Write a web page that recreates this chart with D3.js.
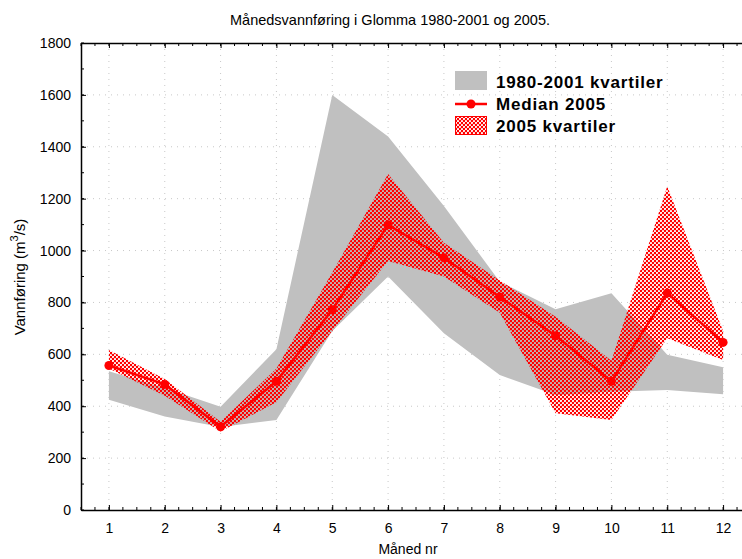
<html>
  <head>
    <style>
      body { margin: 0; background: #fff; }
      text { font-family: "Liberation Sans", Arial, sans-serif; }
    </style>
  </head>
  <body>
    <script src="https://d3js.org/d3.v7.min.js"></script>
    <script>
    var width = 742, height = 559;

    // month numbers
    var months = [1, 2, 3, 4, 5, 6, 7, 8, 9, 10, 11, 12];
    // 1980-2001 quartiles
    var q1980Low  = [425, 360, 320, 347, 690, 900, 681, 520, 443, 456, 463, 446];
    var q1980High = [535, 470, 398, 620, 1600, 1440, 1172, 880, 774, 835, 598, 550];
    // 2005 median and quartiles
    var median2005 = [557, 484, 321, 496, 772, 1099, 972, 821, 672, 496, 836, 646];
    var q2005Low   = [545, 440, 303, 415, 690, 960, 900, 760, 373, 347, 662, 578];
    var q2005High  = [617, 505, 340, 545, 915, 1295, 1030, 885, 745, 575, 1248, 690];
    var yTicks = [0, 200, 400, 600, 800, 1000, 1200, 1400, 1600, 1800];

    var pLeft = 81, pRight = 751, pTop = 43, pBottom = 510;

    var svg = d3.select("body").append("svg")
        .attr("width", width)
        .attr("height", height);

    var x = d3.scaleLinear().domain([0.5, 12.5]).range([pLeft, pRight]);
    var y = d3.scaleLinear().domain([0, 1800]).range([pBottom, pTop]);

    // hatch pattern: red with small see-through holes
    var defs = svg.append("defs");
    var pat = defs.append("pattern")
        .attr("id", "hatch")
        .attr("patternUnits", "userSpaceOnUse")
        .attr("width", 4).attr("height", 4);
    pat.append("path")
        .attr("d", "M0,0h4v4h-4z" +
                   "M-0.1,1a1.1,1.1 0 1,0 2.2,0a1.1,1.1 0 1,0 -2.2,0" +
                   "M1.9,3a1.1,1.1 0 1,0 2.2,0a1.1,1.1 0 1,0 -2.2,0")
        .attr("fill", "#ff0000")
        .attr("fill-rule", "evenodd");

    // grid
    svg.append("g").selectAll("line")
      .data(months).enter().append("line")
        .attr("x1", d => x(d)).attr("x2", d => x(d))
        .attr("y1", pTop).attr("y2", pBottom)
        .attr("stroke", "#c8c8c8").attr("stroke-width", 1)
        .attr("stroke-dasharray", "1,5");
    svg.append("g").selectAll("line")
      .data(yTicks.slice(1, -1)).enter().append("line")
        .attr("x1", pLeft).attr("x2", pRight)
        .attr("y1", d => y(d)).attr("y2", d => y(d))
        .attr("stroke", "#c8c8c8").attr("stroke-width", 1)
        .attr("stroke-dasharray", "1,5");

    var data = months.map(function(m, i) {
      return {m: m, lo: q1980Low[i], hi: q1980High[i], med: median2005[i], lo5: q2005Low[i], hi5: q2005High[i]};
    });

    var area1980 = d3.area().x(d => x(d.m)).y0(d => y(d.lo)).y1(d => y(d.hi));
    var area2005 = d3.area().x(d => x(d.m)).y0(d => y(d.lo5)).y1(d => y(d.hi5));
    var line = d3.line().x(d => x(d.m)).y(d => y(d.med));

    svg.append("path").datum(data)
        .attr("d", area1980)
        .attr("fill", "#c0c0c0");

    svg.append("path").datum(data)
        .attr("d", area2005)
        .attr("fill", "url(#hatch)");

    svg.append("path").datum(data)
        .attr("d", line)
        .attr("fill", "none")
        .attr("stroke", "#ff0000")
        .attr("stroke-width", 2.5);

    svg.append("g").selectAll("circle")
      .data(data).enter().append("circle")
        .attr("cx", d => x(d.m))
        .attr("cy", d => y(d.med))
        .attr("r", 4.5)
        .attr("fill", "#ff0000");

    // axes (ticks inward)
    var xMinor = d3.range(0.5, 12.51, 0.25);
    var yMinor = d3.range(0, 1801, 100);

    var xb = svg.append("g").attr("transform", "translate(0," + pBottom + ")")
        .call(d3.axisBottom(x).tickValues(months).tickSizeInner(-5).tickSizeOuter(0).tickPadding(13));
    xb.append("g").selectAll("line").data(xMinor).enter().append("line")
        .attr("x1", d => x(d)).attr("x2", d => x(d)).attr("y1", 0).attr("y2", -3)
        .attr("stroke", "#000");
    var xt = svg.append("g").attr("transform", "translate(0," + pTop + ")")
        .call(d3.axisTop(x).tickValues(months).tickSizeInner(-5).tickSizeOuter(0).tickFormat(""));
    xt.append("g").selectAll("line").data(xMinor).enter().append("line")
        .attr("x1", d => x(d)).attr("x2", d => x(d)).attr("y1", 0).attr("y2", 3)
        .attr("stroke", "#000");

    var yl = svg.append("g").attr("transform", "translate(" + pLeft + ",0)")
        .call(d3.axisLeft(y).tickValues(yTicks).tickFormat(d3.format("d"))
          .tickSizeInner(-5).tickSizeOuter(0).tickPadding(10));
    yl.append("g").selectAll("line").data(yMinor).enter().append("line")
        .attr("x1", 0).attr("x2", 3).attr("y1", d => y(d)).attr("y2", d => y(d))
        .attr("stroke", "#000");

    svg.selectAll(".domain").attr("stroke", "#000").attr("stroke-width", 1.5);
    svg.selectAll(".tick line").attr("stroke", "#000");
    svg.selectAll(".tick text")
        .attr("font-family", "Liberation Sans, Arial, sans-serif")
        .attr("font-size", 14).attr("fill", "#000");

    // title and axis labels
    svg.append("text")
        .attr("x", 390).attr("y", 25)
        .attr("text-anchor", "middle")
        .attr("font-size", 14.5)
        .text("Månedsvannføring i Glomma 1980-2001 og 2005.");

    svg.append("text")
        .attr("x", 408).attr("y", 554)
        .attr("text-anchor", "middle")
        .attr("font-size", 14)
        .text("Måned nr");

    var yl2 = svg.append("text")
        .attr("transform", "translate(25,277) rotate(-90)")
        .attr("text-anchor", "middle")
        .attr("font-size", 15);
    yl2.append("tspan").text("Vannføring (m");
    yl2.append("tspan").attr("dy", -7).attr("font-size", 11).text("3");
    yl2.append("tspan").attr("dy", 7).text("/s)");

    // legend
    var lg = svg.append("g").attr("transform", "translate(455,70)");
    lg.append("rect").attr("x", 0).attr("y", 1).attr("width", 32).attr("height", 19).attr("fill", "#c0c0c0");
    lg.append("line").attr("x1", 0).attr("x2", 32).attr("y1", 34).attr("y2", 34)
        .attr("stroke", "#ff0000").attr("stroke-width", 2.5);
    lg.append("circle").attr("cx", 16).attr("cy", 34).attr("r", 4.5).attr("fill", "#ff0000");
    lg.append("rect").attr("x", 0.5).attr("y", 46.5).attr("width", 31).attr("height", 18)
        .attr("fill", "url(#hatch)").attr("stroke", "#ff0000").attr("stroke-width", 1);
    var labels = ["1980-2001 kvartiler", "Median 2005", "2005 kvartiler"];
    lg.selectAll("text").data(labels).enter().append("text")
        .attr("x", 41).attr("y", (d, i) => 18 + i * 22)
        .attr("font-size", 17).attr("font-weight", "bold")
        .attr("letter-spacing", 0.8)
        .text(d => d);
    </script>
  </body>
</html>
